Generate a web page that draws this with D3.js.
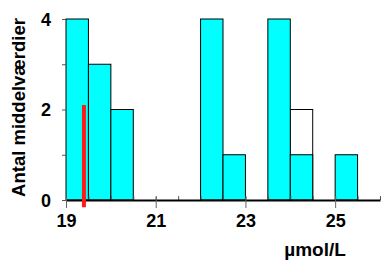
<!DOCTYPE html>
<html lang="da">
<head>
  <meta charset="UTF-8">
  <title>Antal middelværdier</title>
  <script src="https://d3js.org/d3.v7.min.js"></script>
  <style>
    body { margin: 0; background: #fff; }
    text { font-family: "Liberation Sans", Arial, sans-serif; font-weight: bold; fill: #000; }
  </style>
</head>
<body>
  <div id="chart"></div>
  <script>
    // bin starts (width 0.5) and counts
    const binStarts = [19, 19.5, 20, 22, 22.5, 23.5, 24, 25];
    const binCounts = [4, 3, 2, 4, 1, 4, 1, 1];
    // open (white) part stacked above
    const openStarts = [24];
    const openCounts = [2];
    const binWidth = 0.5;
    const xTickLabels = [19, 21, 23, 25];
    const yTickLabels = [0, 2, 4];
    const meanValue = 19.4, meanTop = 2.1;

    const width = 385, height = 260;
    const margin = { top: 19, right: 5, bottom: 60, left: 66 };

    const svg = d3.select("#chart").append("svg")
      .attr("width", width).attr("height", height);

    const x = d3.scaleLinear().domain([19, 26]).range([margin.left, 380]);
    const y = d3.scaleLinear().domain([0, 4]).range([200, margin.top]);

    // open bars
    svg.selectAll(".open").data(openStarts).enter().append("rect")
      .attr("x", d => x(d))
      .attr("y", (d, i) => y(openCounts[i]))
      .attr("width", x(binWidth) - x(0))
      .attr("height", (d, i) => y(0) - y(openCounts[i]))
      .attr("fill", "#fff").attr("stroke", "#000").attr("stroke-width", 1);

    // filled bars
    svg.selectAll(".bar").data(binStarts).enter().append("rect")
      .attr("x", d => x(d))
      .attr("y", (d, i) => y(binCounts[i]))
      .attr("width", x(binWidth) - x(0))
      .attr("height", (d, i) => y(0) - y(binCounts[i]))
      .attr("fill", "#00ffff").attr("stroke", "#000").attr("stroke-width", 1);

    // y axis
    const yAxis = svg.append("g").attr("transform", `translate(${margin.left},0)`)
      .call(d3.axisLeft(y).tickValues(d3.range(0, 5)).tickSize(4)
        .tickFormat(d => yTickLabels.includes(d) ? d : ""));
    yAxis.select(".domain").remove();
    yAxis.selectAll("line").attr("stroke", "#555");
    yAxis.selectAll("text").attr("x", -15).style("font-size", "18px").attr("dy", "0.35em");

    // x axis minor ticks (inside)
    const xMinor = svg.append("g").attr("transform", `translate(0,${y(0)})`)
      .call(d3.axisTop(x).tickValues(d3.range(19, 26.01, 0.5)).tickSize(4).tickFormat(""));
    xMinor.select(".domain").remove();
    xMinor.selectAll("line").attr("stroke", "#555");

    // x axis major ticks + labels
    const xAxis = svg.append("g").attr("transform", `translate(0,${y(0)})`)
      .call(d3.axisBottom(x).tickValues(xTickLabels).tickSize(8).tickSizeOuter(0)
        .tickFormat(d3.format("d")));
    xAxis.select(".domain").attr("stroke", "#000").attr("stroke-width", 2);
    xAxis.selectAll("line").attr("stroke", "#666").attr("y1", -3);
    xAxis.selectAll("text").attr("y", 14).style("font-size", "18px");

    // mean line
    svg.append("line")
      .attr("x1", x(meanValue)).attr("x2", x(meanValue))
      .attr("y1", y(meanTop)).attr("y2", y(-0.16))
      .attr("stroke", "#ff1a1a").attr("stroke-width", 4);

    svg.append("text")
      .attr("transform", `translate(25,${(y(0) + y(4)) / 2 - 2}) rotate(-90)`)
      .attr("text-anchor", "middle")
      .style("font-size", "18.5px")
      .text("Antal middelværdier");

    svg.append("text")
      .attr("x", 315).attr("y", 256)
      .attr("text-anchor", "middle")
      .style("font-size", "19px")
      .text("µmol/L");
  </script>
</body>
</html>
